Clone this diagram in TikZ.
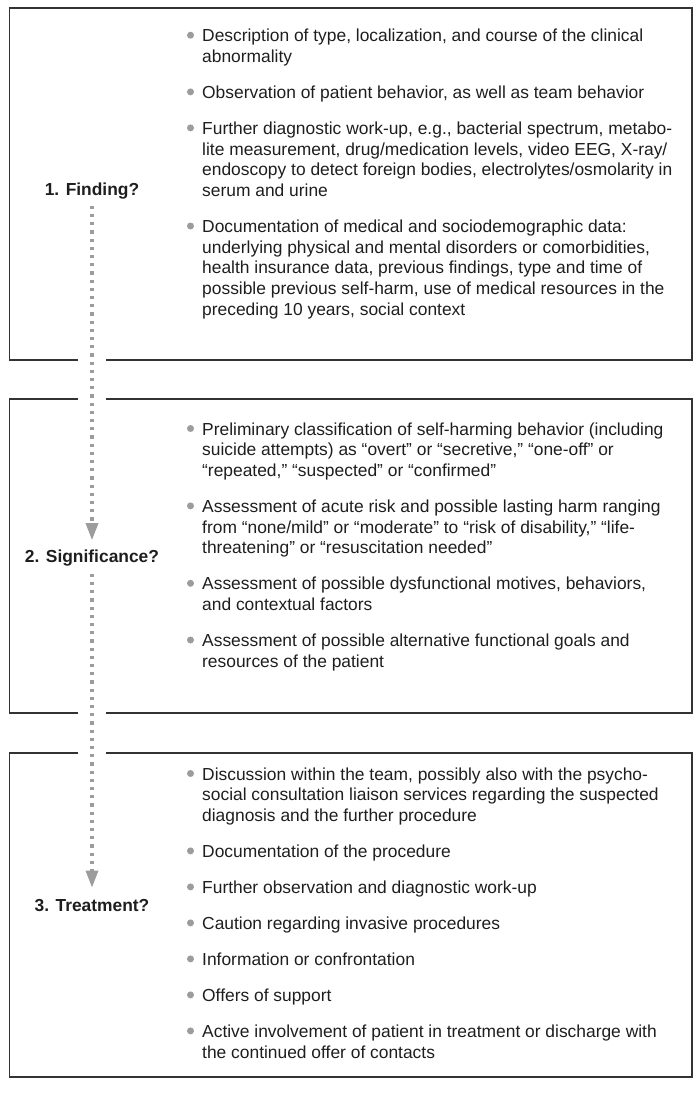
\documentclass[tikz,border=0pt]{standalone}
\usepackage{fontspec}
\setmainfont{Liberation Sans}
\usetikzlibrary{arrows.meta}
\definecolor{bordercol}{HTML}{333333}
\definecolor{flowcol}{HTML}{9C9C9C}
\definecolor{txtcol}{HTML}{1E1E1E}
\tikzset{
  border/.style={draw=bordercol,line width=1.4pt},
  itm/.style={anchor=base west,inner sep=0pt,text=txtcol,font=\fontsize{17.4}{20.7}\selectfont},
  lab/.style={anchor=base,inner sep=0pt,text=txtcol,font=\fontsize{17.4}{20.7}\selectfont\bfseries},
  dotb/.style={circle,fill=flowcol,inner sep=0pt,minimum size=7pt},
  flow/.style={draw=flowcol,line width=3.2pt,dash pattern=on 3.2pt off 5pt,
    -{Triangle[length=17pt,width=12pt,fill=flowcol]}}
}
\newcommand\bitem[3]{%
  \node[dotb] (#1d) at (190.5,{#2-6.5}) {};
  \node[itm] (#1) at (202,#2) {\begin{tabular}[t]{@{}l@{}}#3\end{tabular}};}
\begin{document}
\begin{tikzpicture}[x=1pt,y=-1pt]
\useasboundingbox (0,0) rectangle (697,1104);
% boxes
\draw[border] (78,360) -| (9.5,8) -| (692,360) -- (106,360);
\draw[border] (78,399) -- (9.5,399) -- (9.5,713) -- (78,713);
\draw[border] (106,399) -- (692,399) -- (692,713) -- (106,713);
\draw[border] (78,753) -| (9.5,1077) -| (692,753) -- (106,753);
% labels
\node[lab] (f) at (92,195) {1. Finding?};
\node[lab] (s) at (92,562) {2. Significance?};
\node[lab] (t) at (92,911) {3. Treatment?};
% flow arrows
\draw[flow,shorten <=7pt,shorten >=9pt] (f.south) -- (s.north);
\draw[flow,shorten <=8pt,shorten >=11pt] (s.south) -- (t.north);
% box 1
\bitem{a1}{41.7}{Description of type, localization, and course of the clinical\\abnormality}
\bitem{a2}{98.4}{Observation of patient behavior, as well as team behavior}
\bitem{a3}{134.4}{Further diagnostic work-up, e.g., bacterial spectrum, metabo-\\lite measurement, drug/medication levels, video EEG, X-ray/\\endoscopy to detect foreign bodies, electrolytes/osmolarity in\\serum and urine}
\bitem{a4}{232.5}{Documentation of medical and sociodemographic data:\\underlying physical and mental disorders or comorbidities,\\health insurance data, previous findings, type and time of\\possible previous self-harm, use of medical resources in the\\preceding 10 years, social context}
% box 2
\bitem{b1}{435}{Preliminary classification of self-harming behavior (including\\suicide attempts) as “overt” or “secretive,” “one-off” or\\“repeated,” “suspected” or “confirmed”}
\bitem{b2}{512.4}{Assessment of acute risk and possible lasting harm ranging\\from “none/mild” or “moderate” to “risk of disability,” “life-\\threatening” or “resuscitation needed”}
\bitem{b3}{589.8}{Assessment of possible dysfunctional motives, behaviors,\\and contextual factors}
\bitem{b4}{646.5}{Assessment of possible alternative functional goals and\\resources of the patient}
% box 3
\bitem{c1}{780}{Discussion within the team, possibly also with the psycho-\\social consultation liaison services regarding the suspected\\diagnosis and the further procedure}
\bitem{c2}{857.4}{Documentation of the procedure}
\bitem{c3}{893.4}{Further observation and diagnostic work-up}
\bitem{c4}{929.4}{Caution regarding invasive procedures}
\bitem{c5}{965.4}{Information or confrontation}
\bitem{c6}{1001.4}{Offers of support}
\bitem{c7}{1037.4}{Active involvement of patient in treatment or discharge with\\the continued offer of contacts}
\end{tikzpicture}
\end{document}
